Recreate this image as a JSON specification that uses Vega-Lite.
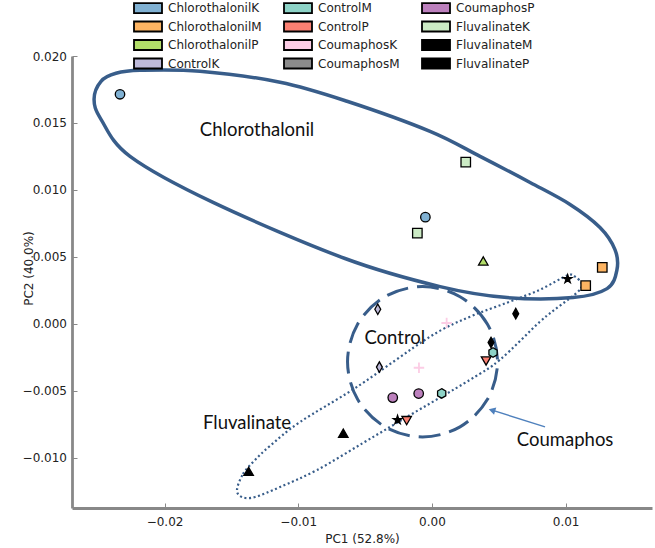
{
  "$schema": "https://vega.github.io/schema/vega-lite/v6.json",
  "width": 580,
  "height": 452,
  "autosize": "none",
  "padding": {"left": 72, "top": 56, "right": 3, "bottom": 40},
  "background": "white",
  "config": {
    "view": {"stroke": null},
    "axis": {
      "grid": false,
      "domainColor": "#888888",
      "domainWidth": 2.8,
      "tickColor": "#888888",
      "tickSize": -5,
      "tickWidth": 1,
      "labelFont": "DejaVu Sans",
      "labelFontSize": 12,
      "labelColor": "#222222",
      "titleFont": "DejaVu Sans",
      "titleFontSize": 12,
      "titleFontWeight": "normal",
      "titleColor": "#222222"
    }
  },
  "datasets": {
    "pts": [
      {"group": "ChlorothalonilK", "PC1": -0.02333, "PC2": 0.01714},
      {"group": "ChlorothalonilK", "PC1": -0.00049, "PC2": 0.00796},
      {"group": "ChlorothalonilM", "PC1": 0.01274, "PC2": 0.00421},
      {"group": "ChlorothalonilM", "PC1": 0.0115, "PC2": 0.00284},
      {"group": "ChlorothalonilP", "PC1": 0.00384, "PC2": 0.00469},
      {"group": "ControlK", "PC1": -0.00405, "PC2": 0.00108},
      {"group": "ControlK", "PC1": -0.00393, "PC2": -0.00324},
      {"group": "ControlM", "PC1": 0.00457, "PC2": -0.00215},
      {"group": "ControlM", "PC1": 0.00073, "PC2": -0.00521},
      {"group": "ControlP", "PC1": 0.00405, "PC2": -0.00279},
      {"group": "ControlP", "PC1": -0.00189, "PC2": -0.00724},
      {"group": "CoumaphosK", "PC1": 0.0011, "PC2": 0.00005},
      {"group": "CoumaphosK", "PC1": -0.00097, "PC2": -0.00329},
      {"group": "CoumaphosM", "PC1": 0.00627, "PC2": 0.00075},
      {"group": "CoumaphosM", "PC1": 0.00442, "PC2": -0.0014},
      {"group": "CoumaphosP", "PC1": -0.00293, "PC2": -0.00552},
      {"group": "CoumaphosP", "PC1": -0.00099, "PC2": -0.00522},
      {"group": "FluvalinateK", "PC1": 0.00253, "PC2": 0.01207},
      {"group": "FluvalinateK", "PC1": -0.00109, "PC2": 0.00676},
      {"group": "FluvalinateM", "PC1": 0.01015, "PC2": 0.00334},
      {"group": "FluvalinateM", "PC1": -0.00257, "PC2": -0.00719},
      {"group": "FluvalinateP", "PC1": -0.00663, "PC2": -0.00818},
      {"group": "FluvalinateP", "PC1": -0.01371, "PC2": -0.01103}
    ],
    "chloro": [
      {"i": 1, "PC1": -0.02527, "PC2": 0.01677},
      {"i": 2, "PC1": -0.02475, "PC2": 0.01811},
      {"i": 3, "PC1": -0.02363, "PC2": 0.01871},
      {"i": 4, "PC1": -0.02183, "PC2": 0.01893},
      {"i": 5, "PC1": -0.01735, "PC2": 0.01886},
      {"i": 6, "PC1": -0.01136, "PC2": 0.01804},
      {"i": 7, "PC1": -0.00635, "PC2": 0.01662},
      {"i": 8, "PC1": -0.00014, "PC2": 0.01437},
      {"i": 9, "PC1": 0.0036, "PC2": 0.0125},
      {"i": 10, "PC1": 0.00734, "PC2": 0.01055},
      {"i": 11, "PC1": 0.01033, "PC2": 0.00891},
      {"i": 12, "PC1": 0.01257, "PC2": 0.00719},
      {"i": 13, "PC1": 0.01369, "PC2": 0.00554},
      {"i": 14, "PC1": 0.01384, "PC2": 0.00404},
      {"i": 15, "PC1": 0.0131, "PC2": 0.00262},
      {"i": 16, "PC1": 0.01055, "PC2": 0.00195},
      {"i": 17, "PC1": 0.00562, "PC2": 0.00195},
      {"i": 18, "PC1": 0.00061, "PC2": 0.00277},
      {"i": 19, "PC1": -0.0065, "PC2": 0.00487},
      {"i": 20, "PC1": -0.01637, "PC2": 0.00906},
      {"i": 21, "PC1": -0.02258, "PC2": 0.0125},
      {"i": 22, "PC1": -0.02475, "PC2": 0.01527}
    ],
    "control": [
      {"i": 1, "PC1": 0.004906, "PC2": -0.002844},
      {"i": 2, "PC1": 0.004154, "PC2": -0.000037},
      {"i": 3, "PC1": 0.002102, "PC2": 0.002018},
      {"i": 4, "PC1": -0.000703, "PC2": 0.00277},
      {"i": 5, "PC1": -0.003508, "PC2": 0.002018},
      {"i": 6, "PC1": -0.00556, "PC2": -0.000037},
      {"i": 7, "PC1": -0.006312, "PC2": -0.002844},
      {"i": 8, "PC1": -0.00556, "PC2": -0.005651},
      {"i": 9, "PC1": -0.003508, "PC2": -0.007706},
      {"i": 10, "PC1": -0.000703, "PC2": -0.008458},
      {"i": 11, "PC1": 0.002102, "PC2": -0.007706},
      {"i": 12, "PC1": 0.004154, "PC2": -0.005651}
    ],
    "fluva": [
      {"i": 1, "PC1": -0.01458, "PC2": -0.01243},
      {"i": 2, "PC1": -0.01413, "PC2": -0.01123},
      {"i": 3, "PC1": -0.01323, "PC2": -0.01018},
      {"i": 4, "PC1": -0.01211, "PC2": -0.00913},
      {"i": 5, "PC1": -0.00986, "PC2": -0.00734},
      {"i": 6, "PC1": -0.0056, "PC2": -0.00472},
      {"i": 7, "PC1": -0.00014, "PC2": -0.00097},
      {"i": 8, "PC1": 0.00285, "PC2": 0.00052},
      {"i": 9, "PC1": 0.00562, "PC2": 0.00157},
      {"i": 10, "PC1": 0.00808, "PC2": 0.00254},
      {"i": 11, "PC1": 0.0101, "PC2": 0.00359},
      {"i": 12, "PC1": 0.0107, "PC2": 0.00352},
      {"i": 13, "PC1": 0.01123, "PC2": 0.00292},
      {"i": 14, "PC1": 0.01085, "PC2": 0.00232},
      {"i": 15, "PC1": 0.00958, "PC2": 0.00135},
      {"i": 16, "PC1": 0.00808, "PC2": 0.00015},
      {"i": 17, "PC1": 0.00509, "PC2": -0.00269},
      {"i": 18, "PC1": 0.00285, "PC2": -0.00419},
      {"i": 19, "PC1": -0.00186, "PC2": -0.00696},
      {"i": 20, "PC1": -0.00515, "PC2": -0.00891},
      {"i": 21, "PC1": -0.00859, "PC2": -0.01093},
      {"i": 22, "PC1": -0.01136, "PC2": -0.0122},
      {"i": 23, "PC1": -0.01323, "PC2": -0.01295},
      {"i": 24, "PC1": -0.0142, "PC2": -0.01295}
    ],
    "arrow": [
      {"i": 1, "PC1": 0.00846, "PC2": -0.00771},
      {"i": 2, "PC1": 0.0045, "PC2": -0.00646}
    ],
    "arrowhead": [
      {"PC1": 0.00449, "PC2": -0.00646}
    ],
    "labels": [
      {"label": "Chlorothalonil", "PC1": -0.01308, "PC2": 0.01445},
      {"label": "Control", "PC1": -0.00278, "PC2": -0.00105},
      {"label": "Fluvalinate", "PC1": -0.01383, "PC2": -0.00741},
      {"label": "Coumaphos", "PC1": 0.00996, "PC2": -0.00868}
    ]
  },
  "encoding": {
    "x": {
      "field": "PC1",
      "type": "quantitative",
      "scale": {"domain": [-0.02692, 0.01646], "nice": false, "zero": false},
      "axis": {
        "title": "PC1 (52.8%)",
        "values": [-0.02, -0.01, 0, 0.01],
        "format": ".2f",
        "labelPadding": 13,
        "titlePadding": 6
      }
    },
    "y": {
      "field": "PC2",
      "type": "quantitative",
      "scale": {"domain": [-0.01377, 0.02], "nice": false, "zero": false},
      "axis": {
        "title": "PC2 (40.0%)",
        "values": [-0.01, -0.005, 0, 0.005, 0.01, 0.015, 0.02],
        "format": ".3f",
        "labelPadding": 10.5,
        "titleX": -44,
        "titleY": 212,
        "titleAlign": "center",
        "titleBaseline": "middle"
      }
    }
  },
  "layer": [
    {
      "data": {"values": [{}]},
      "mark": {"type": "rule", "stroke": "#888888", "strokeWidth": 2, "strokeDash": [9, 6]},
      "encoding": {
        "x": {"datum": 0, "type": "quantitative"},
        "y": {"datum": -0.01377, "type": "quantitative"},
        "y2": {"datum": 0.0185}
      }
    },
    {
      "data": {"values": [{}]},
      "mark": {"type": "rule", "stroke": "#888888", "strokeWidth": 2, "strokeDash": [9, 6]},
      "encoding": {
        "y": {"datum": 0, "type": "quantitative"},
        "x": {"datum": -0.02692, "type": "quantitative"},
        "x2": {"datum": 0.01646}
      }
    },
    {
      "data": {"name": "chloro"},
      "mark": {"type": "line", "interpolate": "cardinal-closed", "stroke": "#385d8a", "strokeWidth": 3.5},
      "encoding": {"order": {"field": "i", "type": "quantitative"}}
    },
    {
      "data": {"name": "control"},
      "mark": {"type": "line", "interpolate": "cardinal-closed", "stroke": "#385d8a", "strokeWidth": 3, "strokeDash": [22, 9]},
      "encoding": {"order": {"field": "i", "type": "quantitative"}}
    },
    {
      "data": {"name": "fluva"},
      "mark": {"type": "line", "interpolate": "cardinal-closed", "stroke": "#385d8a", "strokeWidth": 2.2, "strokeDash": [2, 2.6]},
      "encoding": {"order": {"field": "i", "type": "quantitative"}}
    },
    {
      "data": {"name": "arrow"},
      "mark": {"type": "line", "stroke": "#4f81bd", "strokeWidth": 1.5},
      "encoding": {"order": {"field": "i", "type": "quantitative"}}
    },
    {
      "data": {"name": "arrowhead"},
      "mark": {"type": "point", "shape": "triangle-up", "filled": true, "fill": "#4f81bd", "stroke": null, "size": 60, "angle": 287, "opacity": 1}
    },
    {
      "data": {"name": "labels"},
      "mark": {"type": "text", "font": "Lato", "fontSize": 18.5, "fill": "#111111", "align": "center", "baseline": "middle"},
      "encoding": {"text": {"field": "label"}}
    },
    {
      "data": {"name": "pts"},
      "transform": [{"filter": "datum.group !== 'CoumaphosK' && datum.group !== 'CoumaphosM'"}],
      "mark": {"type": "point", "filled": true, "stroke": "black", "strokeWidth": 1.3, "opacity": 1, "size": 90},
      "encoding": {
        "fill": {
          "field": "group",
          "type": "nominal",
          "scale": {
            "domain": ["ChlorothalonilK", "ControlM", "CoumaphosP", "ChlorothalonilM", "ControlP", "FluvalinateK", "ChlorothalonilP", "CoumaphosK", "FluvalinateM", "ControlK", "CoumaphosM", "FluvalinateP"],
            "range": ["#80b1d3", "#8dd3c7", "#bc80bd", "#fdb462", "#fb8072", "#ccebc5", "#b3de69", "#fccde5", "#000000", "#bebada", "#8c8c8c", "#000000"]
          },
          "legend": {
            "orient": "none",
            "legendX": 70,
            "legendY": -54,
            "direction": "horizontal",
            "columns": 3,
            "title": null,
            "symbolType": "M-2.8,-1H2.8V1H-2.8Z",
            "symbolSize": 100,
            "symbolStrokeColor": "black",
            "symbolStrokeWidth": 1.8,
            "symbolOpacity": 1,
            "labelFont": "DejaVu Sans",
            "labelFontSize": 12,
            "labelColor": "#222222",
            "labelOffset": 14,
            "columnPadding": 18,
            "rowPadding": 0.5,
            "encode": {
              "symbols": {"update": {"stroke": {"value": "black"}, "strokeWidth": {"value": 1.8}, "shape": {"value": "M-2.8,-1H2.8V1H-2.8Z"}}}
            }
          }
        },
        "shape": {
          "field": "group",
          "type": "nominal",
          "scale": {
            "domain": ["ChlorothalonilK", "ChlorothalonilM", "ChlorothalonilP", "ControlK", "ControlM", "ControlP", "CoumaphosK", "CoumaphosM", "CoumaphosP", "FluvalinateK", "FluvalinateM", "FluvalinateP"],
            "range": ["circle", "square", "triangle-up", "M0,-1.1L0.62,0L0,1.1L-0.62,0Z", "M0,-1L0.866,-0.5L0.866,0.5L0,1L-0.866,0.5L-0.866,-0.5Z", "triangle-down", "cross", "M0,-1.1L0.62,0L0,1.1L-0.62,0Z", "circle", "square", "M0,-0.95L0.213,-0.294L0.904,-0.294L0.345,0.112L0.559,0.769L0,0.363L-0.559,0.769L-0.345,0.112L-0.904,-0.294L-0.213,-0.294Z", "triangle-up"]
          },
          "legend": null
        }
      }
    },
    {
      "data": {"name": "pts"},
      "transform": [{"filter": "datum.group === 'CoumaphosK'"}],
      "mark": {"type": "point", "shape": "M-1,0H1M0,-1V1", "filled": false, "fill": null, "stroke": "#fccde5", "strokeWidth": 1.8, "opacity": 1, "size": 110}
    },
    {
      "data": {"name": "pts"},
      "transform": [{"filter": "datum.group === 'CoumaphosM'"}],
      "mark": {"type": "point", "shape": "M0,-1.1L0.62,0L0,1.1L-0.62,0Z", "filled": true, "fill": "#000000", "stroke": "black", "strokeWidth": 1.3, "opacity": 1, "size": 90}
    }
  ]
}
